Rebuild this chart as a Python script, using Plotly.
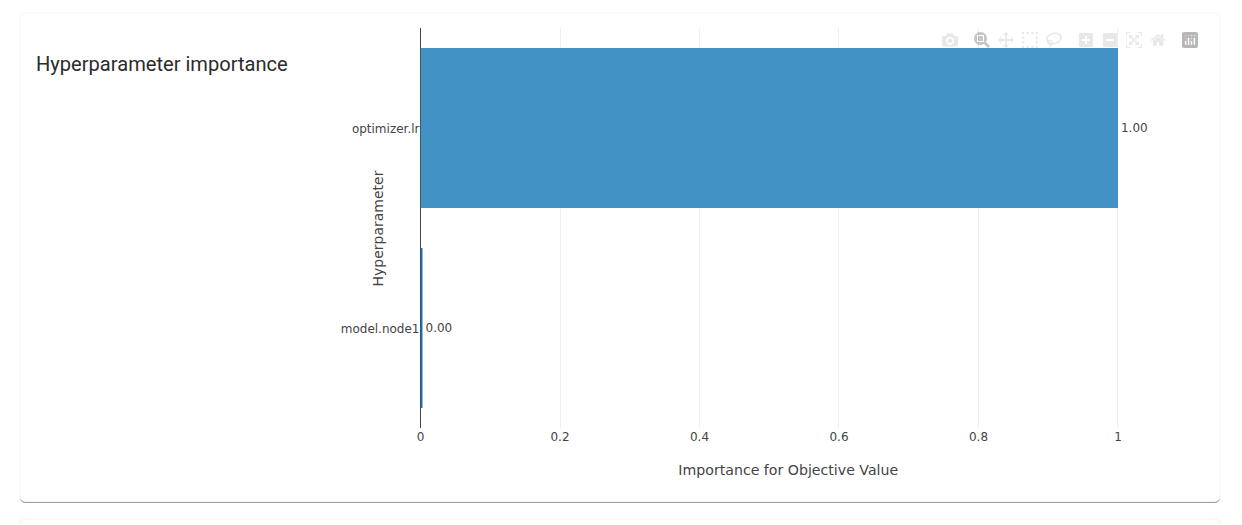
import plotly.graph_objects as go

WIDTH = 1242
HEIGHT = 525

# data, bottom bar first
params = ["model.node1", "optimizer.lr"]
importance = [0.002, 1.0]
value_labels = ["0.00", "1.00"]
bar_colors = ["#2171b5", "#4292c6"]
x_ticks = [0, 0.2, 0.4, 0.6, 0.8, 1]
x_tick_labels = ["0", "0.2", "0.4", "0.6", "0.8", "1"]


def px(x):
    return x / WIDTH


def py(y):
    return 1 - y / HEIGHT


def card_path(x0, y0, x1, y1, r=6):
    # rounded rectangle, given in page pixels
    return (
        f"M {px(x0 + r)} {py(y0)} L {px(x1 - r)} {py(y0)} "
        f"Q {px(x1)} {py(y0)} {px(x1)} {py(y0 + r)} L {px(x1)} {py(y1 - r)} "
        f"Q {px(x1)} {py(y1)} {px(x1 - r)} {py(y1)} L {px(x0 + r)} {py(y1)} "
        f"Q {px(x0)} {py(y1)} {px(x0)} {py(y1 - r)} L {px(x0)} {py(y0 + r)} "
        f"Q {px(x0)} {py(y0)} {px(x0 + r)} {py(y0)} Z"
    )


def card_shape(x0, y0, x1, y1, fill, line="rgba(0,0,0,0)"):
    return dict(
        type="path", xref="paper", yref="paper", layer="below",
        path=card_path(x0, y0, x1, y1), fillcolor=fill, line=dict(color=line, width=1),
    )


fig = go.Figure(
    go.Bar(
        x=importance,
        y=params,
        orientation="h",
        text=value_labels,
        textposition="outside",
        cliponaxis=False,
        marker=dict(color=bar_colors, line=dict(width=0)),
        textfont=dict(family="DejaVu Sans", size=12, color="#444"),
    )
)

fig.update_layout(
    width=WIDTH,
    height=HEIGHT,
    autosize=False,
    margin=dict(l=0, r=0, t=0, b=0),
    paper_bgcolor="white",
    plot_bgcolor="rgba(0,0,0,0)",
    showlegend=False,
    bargap=0.2,
    font=dict(family="DejaVu Sans", size=12, color="#444"),
    modebar=dict(bgcolor="rgba(0,0,0,0)", color="rgba(68,68,68,0.12)", activecolor="rgba(68,68,68,0.3)"),
    shapes=[
        card_shape(20, 519, 1220, 540, "#ffffff", "#f3f3f3"),
        card_shape(20, 15, 1220, 503, "#9e9e9e"),
        card_shape(20, 13, 1220, 501.5, "#ffffff", "#f4f4f4"),
    ],
    annotations=[
        dict(
            text="Hyperparameter importance",
            xref="paper", yref="paper", x=px(33.5), y=py(64),
            xanchor="left", yanchor="middle", showarrow=False,
            font=dict(family="Roboto", size=20.1, color="#2b2b2b"),
        ),
        # the axis title sits closer to the plot than standoff can bring it
        dict(
            text="Hyperparameter",
            xref="paper", yref="paper", x=px(378), y=py(228.5),
            xanchor="center", yanchor="middle", textangle=-90, showarrow=False,
            font=dict(family="DejaVu Sans", size=14, color="#444"),
        ),
    ],
)

fig.update_xaxes(
    domain=[px(420.5), px(1156)],
    range=[0, 1.0545],
    tickvals=x_ticks,
    ticktext=x_tick_labels,
    showgrid=True,
    gridcolor="#eeeeee",
    zeroline=True,
    zerolinecolor="#444",
    zerolinewidth=1,
    tickfont=dict(size=12, color="#444"),
    title=dict(text="Importance for Objective Value", font=dict(size=14.15, color="#444"), standoff=22),
    automargin=False,
)
fig.update_yaxes(
    domain=[py(428), py(28)],
    categoryorder="array",
    categoryarray=params,
    showgrid=False,
    tickfont=dict(size=12, color="#444"),
    ticklabelshift=1,
    automargin=False,
)

# drop the page margin, pull the toolbar in over the card, fade the logo
post_script = """
document.body.style.margin = '0';
var s = document.createElement('style');
s.textContent = '.modebar{top:29px !important; right:40px !important;}'
  + '.modebar-group:last-child a svg{opacity:0.28;}';
document.head.appendChild(s);
"""

fig.write_html(
    "out.html",
    post_script=post_script,
    config=dict(displayModeBar=True, displaylogo=True),
)
